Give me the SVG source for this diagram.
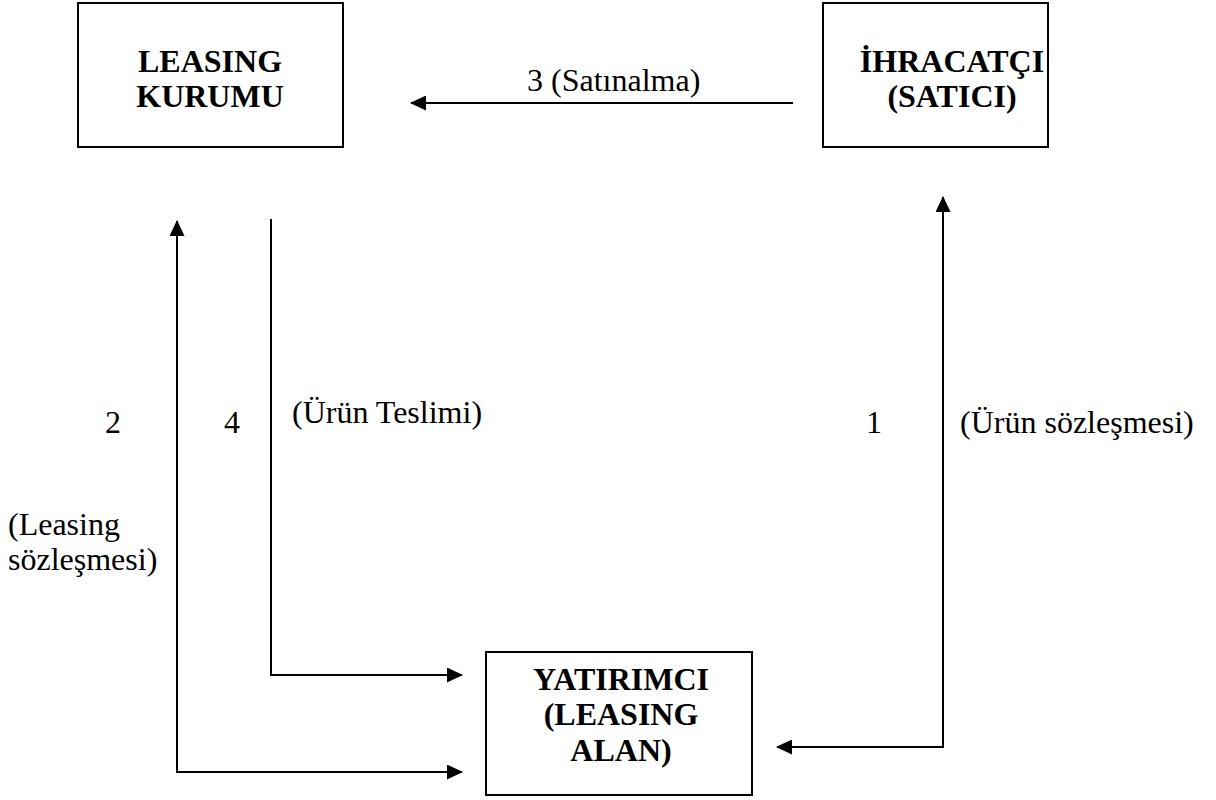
<svg xmlns="http://www.w3.org/2000/svg" width="1216" height="800" viewBox="0 0 1216 800">
  <style>
    .box { fill: #fff; stroke: #000; stroke-width: 2; }
    text { font-family: 'Liberation Serif', 'Times New Roman', serif; font-size: 32px; fill: #000; }
    .title { font-weight: bold; text-anchor: middle; }
    .wire { fill: none; stroke: #000; stroke-width: 2; }
  </style>
  <defs>
    <marker id="arrow" markerUnits="userSpaceOnUse" markerWidth="17" markerHeight="15" refX="15" refY="7.5" orient="auto-start-reverse">
      <path d="M0,0 L16,7.5 L0,15 Z" fill="#000"/>
    </marker>
  </defs>
  <rect width="1216" height="800" fill="#fff"/>

  <!-- leasing company -->
  <g id="leasing-kurumu">
    <rect class="box" x="78" y="3" width="265" height="144"/>
    <text class="title" x="210" y="72">LEASING</text>
    <text class="title" x="210" y="107">KURUMU</text>
  </g>

  <!-- exporter / seller -->
  <g id="ihracatci">
    <rect class="box" x="823" y="3" width="225" height="144"/>
    <text class="title" x="952" y="72">İHRACATÇI</text>
    <text class="title" x="952" y="107">(SATICI)</text>
  </g>

  <!-- investor / lessee -->
  <g id="yatirimci">
    <rect class="box" x="486" y="652" width="266" height="143"/>
    <text class="title" x="621" y="690">YATIRIMCI</text>
    <text class="title" x="621" y="725">(LEASING</text>
    <text class="title" x="621" y="761">ALAN)</text>
  </g>

  <!-- connectors -->
  <g id="connectors">
    <path class="wire" d="M793,103 H411" marker-end="url(#arrow)"/>
    <path class="wire" d="M177,221 V772 H462" marker-start="url(#arrow)" marker-end="url(#arrow)"/>
    <path class="wire" d="M271,219 V675 H462" marker-end="url(#arrow)"/>
    <path class="wire" d="M943,197 V747 H777" marker-start="url(#arrow)" marker-end="url(#arrow)"/>
  </g>

  <!-- connector labels -->
  <g id="labels">
    <text x="527" y="91">3 (Satınalma)</text>
    <text x="105" y="433">2</text>
    <text x="224" y="433">4</text>
    <text x="292" y="423">(Ürün Teslimi)</text>
    <text x="866" y="433">1</text>
    <text x="960" y="433">(Ürün sözleşmesi)</text>
    <text x="8" y="535">(Leasing</text>
    <text x="8" y="570">sözleşmesi)</text>
  </g>
</svg>
